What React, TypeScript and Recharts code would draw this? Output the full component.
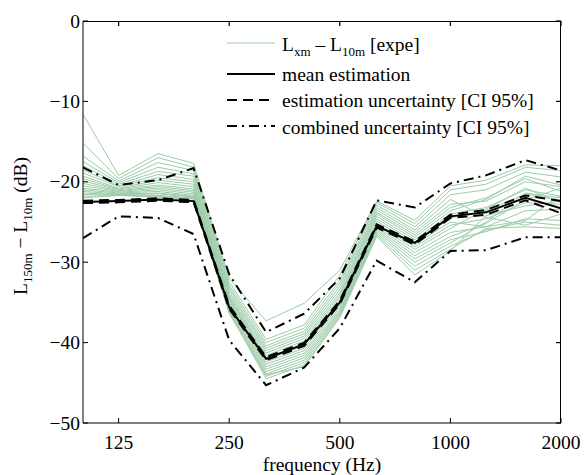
import React from 'react';
import { LineChart, Line, XAxis, YAxis } from 'recharts';

// third-octave band centres (Hz)
const freqs = [100, 125, 160, 200, 250, 315, 400, 500, 630, 800, 1000, 1250, 1600, 2000];
const xTicks = [125, 250, 500, 1000, 2000];
const yTicks = [-50, -40, -30, -20, -10, 0];

const meanEstimation = [-22.5, -22.4, -22.2, -22.4, -35.6, -42.0, -40.2, -35.0, -25.5, -27.6, -24.3, -23.8, -22.0, -23.3];
const estUpper = [-22.35, -22.25, -22.05, -22.25, -35.4, -41.8, -40.0, -34.8, -25.3, -27.4, -24.1, -23.5, -21.7, -22.4];
const estLower = [-22.65, -22.55, -22.35, -22.55, -35.8, -42.2, -40.4, -35.2, -25.7, -27.8, -24.5, -24.1, -22.3, -23.9];
const combUpper = [-18.2, -20.4, -19.8, -18.3, -31.5, -38.7, -36.4, -32.0, -22.3, -23.2, -20.2, -19.2, -17.3, -18.6];
const combLower = [-27.0, -24.3, -24.5, -26.5, -39.7, -45.3, -43.1, -38.2, -29.8, -32.5, -28.6, -28.5, -26.9, -26.9];

// measured L_xm - L_10m curves
const expeCurves = [
  [-11.6, -19.2, -16.5, -17.7, -32.0, -37.3, -35.1, -31.0, -22.4, -24.8, -20.5, -19.8, -17.9, -18.0],
  [-15.2, -19.6, -17.0, -18.2, -32.4, -39.6, -37.8, -31.6, -22.6, -25.2, -21.0, -20.3, -18.2, -18.6],
  [-16.8, -19.9, -17.6, -18.6, -32.8, -40.0, -38.2, -32.2, -22.9, -25.6, -21.6, -21.0, -18.8, -19.4],
  [-17.5, -20.1, -18.2, -19.0, -33.1, -40.4, -38.6, -32.6, -23.2, -26.0, -22.2, -24.4, -25.4, -24.0],
  [-18.0, -20.3, -18.7, -19.3, -33.4, -40.7, -38.9, -33.0, -23.5, -26.3, -22.8, -22.4, -20.0, -20.6],
  [-18.5, -20.5, -19.1, -19.7, -33.7, -41.0, -39.2, -33.4, -23.8, -26.6, -23.2, -22.0, -19.6, -21.2],
  [-18.9, -20.6, -19.5, -20.0, -34.0, -41.3, -39.5, -33.8, -24.0, -26.9, -23.6, -22.2, -19.3, -20.4],
  [-19.3, -20.8, -19.8, -20.3, -34.2, -41.6, -39.8, -34.1, -24.3, -27.2, -24.0, -23.2, -21.0, -21.8],
  [-19.6, -20.9, -20.1, -20.6, -34.4, -41.9, -40.1, -34.4, -24.6, -27.5, -24.5, -23.6, -21.5, -22.3],
  [-19.9, -21.0, -20.4, -20.9, -34.6, -42.1, -40.4, -34.7, -24.9, -27.8, -25.0, -25.6, -24.8, -21.6],
  [-20.2, -21.1, -20.6, -21.1, -34.8, -42.4, -40.7, -35.0, -25.2, -28.1, -25.4, -24.6, -22.6, -22.8],
  [-20.5, -21.2, -20.8, -21.3, -35.0, -42.7, -41.0, -35.3, -25.4, -28.4, -25.8, -23.4, -20.8, -22.6],
  [-20.8, -21.3, -21.0, -21.5, -35.2, -43.0, -41.3, -35.6, -25.6, -28.8, -26.3, -25.6, -23.6, -23.4],
  [-21.0, -21.4, -21.2, -21.7, -35.4, -43.3, -41.6, -35.9, -25.8, -29.2, -26.8, -25.2, -22.2, -20.8],
  [-21.2, -21.5, -21.4, -21.8, -35.6, -43.6, -41.9, -36.1, -26.0, -29.6, -27.2, -26.2, -24.6, -24.8],
  [-21.4, -21.6, -21.5, -21.9, -35.8, -43.9, -42.2, -36.3, -26.2, -30.0, -27.6, -25.0, -21.4, -22.0],
  [-21.6, -21.6, -21.7, -22.0, -36.0, -44.2, -42.5, -36.5, -26.4, -30.5, -28.0, -26.0, -25.0, -25.4],
  [-21.8, -21.7, -21.8, -22.1, -36.2, -44.5, -42.8, -36.7, -26.6, -31.0, -28.4, -25.8, -25.6, -25.8],
  [-22.0, -21.7, -21.9, -22.3, -36.4, -44.0, -43.0, -36.9, -26.8, -31.6, -28.6, -24.2, -23.0, -22.4],
];

const rows = freqs.map((f, i) => {
  const row: Record<string, number> = {
    f,
    mean: meanEstimation[i],
    estUp: estUpper[i],
    estLo: estLower[i],
    combUp: combUpper[i],
    combLo: combLower[i],
  };
  expeCurves.forEach((c, k) => {
    row[`g${k}`] = c[i];
  });
  return row;
});

const X_MIN = 100;
const X_MAX = 2000;
const Y_MIN = -50;
const Y_MAX = 0;

// chart geometry
const W = 586;
const H = 475;
const Y_AXIS_W = 83;
const X_AXIS_H = 30;
const MARGIN = { top: 21, right: 25, bottom: 22, left: 0 };
const PLOT_L = MARGIN.left + Y_AXIS_W;
const PLOT_T = MARGIN.top;
const PLOT_R = W - MARGIN.right;
const PLOT_B = H - MARGIN.bottom - X_AXIS_H;

// same mapping as the chart axes, used only for the box's top/right inward ticks
const px = (f: number) =>
  PLOT_L + ((Math.log(f) - Math.log(X_MIN)) / (Math.log(X_MAX) - Math.log(X_MIN))) * (PLOT_R - PLOT_L);
const py = (v: number) => PLOT_T + ((Y_MAX - v) / (Y_MAX - Y_MIN)) * (PLOT_B - PLOT_T);

const FONT = '"Liberation Serif", "Times New Roman", serif';
const FS = 19.5;
const GREEN = '#9ccca8';
const DASH = '10 6';
const DASHDOT = '10 5 2 5';
const txt = { fontFamily: FONT, fontSize: FS };

const fmt = (v: number) => (v < 0 ? `\u2212${-v}` : `${v}`);

const BottomTick = (props: any) => {
  const { x, y, payload } = props;
  return (
    <g>
      <line x1={x} x2={x} y1={y} y2={y - 5} stroke="#000" />
      <text x={x} y={y + 26} textAnchor="middle" fontFamily={FONT} fontSize={FS} style={txt} fill="#000">
        {payload.value}
      </text>
    </g>
  );
};

const LeftTick = (props: any) => {
  const { x, y, payload } = props;
  return (
    <g>
      <line x1={x} x2={x + 5} y1={y} y2={y} stroke="#000" />
      <text x={x - 3} y={y + 6.5} textAnchor="end" fontFamily={FONT} fontSize={FS} style={txt} fill="#000">
        {fmt(payload.value)}
      </text>
    </g>
  );
};

const legendItems = [
  { key: 'expe', stroke: GREEN, width: 1, dash: undefined as string | undefined, lineY: 43, textY: 51, label: '' },
  { key: 'mean', stroke: '#000', width: 2, dash: undefined, lineY: 74, textY: 81, label: 'mean estimation' },
  { key: 'est', stroke: '#000', width: 2, dash: DASH, lineY: 100, textY: 107, label: 'estimation uncertainty [CI 95%]' },
  { key: 'comb', stroke: '#000', width: 2, dash: DASHDOT, lineY: 126, textY: 134, label: 'combined uncertainty [CI 95%]' },
];

export default function App() {
  return (
    <div style={{ position: 'absolute', left: 0, top: 0, width: W, height: H, background: '#fff' }}>
      <LineChart width={W} height={H} data={rows} margin={MARGIN}>
        <XAxis
          dataKey="f"
          type="number"
          scale="log"
          domain={[X_MIN, X_MAX]}
          ticks={xTicks}
          interval={0}
          allowDataOverflow
          height={X_AXIS_H}
          tickSize={0}
          tickMargin={0}
          tickLine={false}
          tick={BottomTick}
          axisLine={{ stroke: '#000' }}
        />
        <YAxis
          type="number"
          domain={[Y_MIN, Y_MAX]}
          ticks={yTicks}
          interval={0}
          allowDataOverflow
          width={Y_AXIS_W}
          tickSize={0}
          tickMargin={0}
          tickLine={false}
          tick={LeftTick}
          axisLine={{ stroke: '#000' }}
        />
        {expeCurves.map((_, k) => (
          <Line
            key={k}
            dataKey={`g${k}`}
            stroke={GREEN}
            strokeWidth={1}
            dot={false}
            activeDot={false}
            isAnimationActive={false}
          />
        ))}
        <Line dataKey="combUp" stroke="#000" strokeWidth={2} strokeDasharray={DASHDOT} dot={false} activeDot={false} isAnimationActive={false} />
        <Line dataKey="combLo" stroke="#000" strokeWidth={2} strokeDasharray={DASHDOT} dot={false} activeDot={false} isAnimationActive={false} />
        <Line dataKey="estUp" stroke="#000" strokeWidth={2} strokeDasharray={DASH} dot={false} activeDot={false} isAnimationActive={false} />
        <Line dataKey="estLo" stroke="#000" strokeWidth={2} strokeDasharray={DASH} dot={false} activeDot={false} isAnimationActive={false} />
        <Line dataKey="mean" stroke="#000" strokeWidth={2} dot={false} activeDot={false} isAnimationActive={false} />
      </LineChart>

      {/* top and right edges of the box as plain CSS borders */}
      <div
        style={{
          position: 'absolute',
          left: PLOT_L,
          top: PLOT_T,
          width: PLOT_R - PLOT_L,
          height: PLOT_B - PLOT_T,
          borderTop: '1px solid #000',
          borderRight: '1px solid #000',
          boxSizing: 'border-box',
          pointerEvents: 'none',
        }}
      />

      <svg
        width={W}
        height={H}
        style={{ position: 'absolute', left: 0, top: 0, pointerEvents: 'none', ...txt }}
      >
        {/* inward ticks on the top and right edges */}
        {xTicks.map((t) => (
          <line key={`tt${t}`} x1={px(t)} x2={px(t)} y1={PLOT_T} y2={PLOT_T + 5} stroke="#000" strokeWidth={1.2} />
        ))}
        {yTicks.map((t) => (
          <line key={`rt${t}`} x1={PLOT_R} x2={PLOT_R - 5} y1={py(t)} y2={py(t)} stroke="#000" strokeWidth={1.2} />
        ))}

        {/* axis titles */}
        <text x={(PLOT_L + PLOT_R) / 2} y={471} textAnchor="middle" fill="#000">
          frequency (Hz)
        </text>
        <text transform="translate(27,226) rotate(-90)" textAnchor="middle" fill="#000">
          L<tspan dy={5} fontSize={13}>150m</tspan>
          <tspan dy={-5}> {'\u2212'} L</tspan>
          <tspan dy={5} fontSize={13}>10m</tspan>
          <tspan dy={-5}> (dB)</tspan>
        </text>

        {/* legend */}
        {legendItems.map((it) => (
          <g key={it.key}>
            <line
              x1={227}
              x2={275}
              y1={it.lineY}
              y2={it.lineY}
              stroke={it.stroke}
              strokeWidth={it.width}
              strokeDasharray={it.dash}
            />
            {it.key === 'expe' ? (
              <text x={282} y={it.textY} fill="#000">
                L<tspan dy={5} fontSize={13}>xm</tspan>
                <tspan dy={-5}> {'\u2013'} L</tspan>
                <tspan dy={5} fontSize={13}>10m</tspan>
                <tspan dy={-5}> [expe]</tspan>
              </text>
            ) : (
              <text x={282} y={it.textY} fill="#000">
                {it.label}
              </text>
            )}
          </g>
        ))}
      </svg>
    </div>
  );
}
